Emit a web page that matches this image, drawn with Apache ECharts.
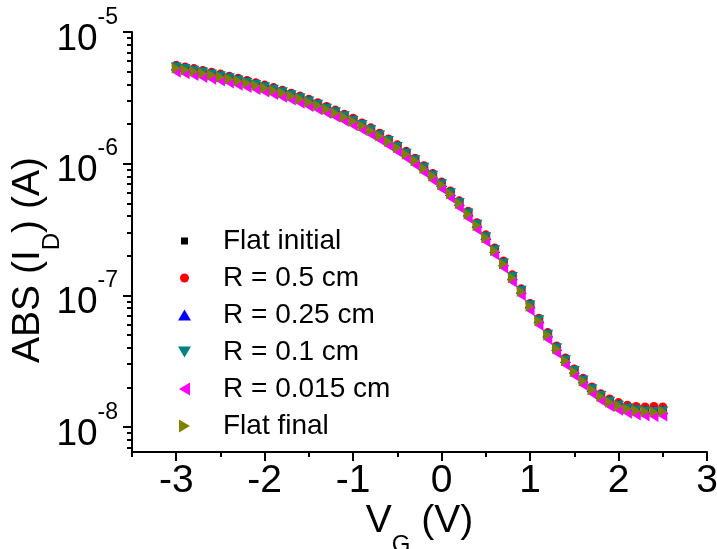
<!DOCTYPE html>
<html>
<head>
<meta charset="utf-8">
<script src="https://cdn.jsdelivr.net/npm/echarts@6/dist/echarts.min.js"></script>
<style>
  html, body { margin: 0; padding: 0; background: #fff; }
  #chart { width: 717px; height: 549px; }
</style>
</head>
<body>
<div id="chart"></div>
<script>
// Gate voltage sweep (V)
const vg = [-3.0, -2.9, -2.8, -2.7, -2.6, -2.5, -2.4, -2.3, -2.2, -2.1,
            -2.0, -1.9, -1.8, -1.7, -1.6, -1.5, -1.4, -1.3, -1.2, -1.1,
            -1.0, -0.9, -0.8, -0.7, -0.6, -0.5, -0.4, -0.3, -0.2, -0.1,
             0.0,  0.1,  0.2,  0.3,  0.4,  0.5,  0.6,  0.7,  0.8,  0.9,
             1.0,  1.1,  1.2,  1.3,  1.4,  1.5,  1.6,  1.7,  1.8,  1.9,
             2.0,  2.1,  2.2,  2.3,  2.4,  2.5];

// |I_D| (A) for each bending state
const flatInitial = [5.36e-6, 5.22e-6, 5.07e-6, 4.91e-6, 4.76e-6, 4.61e-6, 4.44e-6, 4.28e-6, 4.12e-6, 3.96e-6,
                     3.80e-6, 3.64e-6, 3.47e-6, 3.30e-6, 3.13e-6, 2.96e-6, 2.79e-6, 2.62e-6, 2.45e-6, 2.28e-6,
                     2.12e-6, 1.96e-6, 1.80e-6, 1.64e-6, 1.48e-6, 1.33e-6, 1.19e-6, 1.06e-6, 9.28e-7, 8.09e-7,
                     6.98e-7, 5.96e-7, 5.02e-7, 4.17e-7, 3.42e-7, 2.77e-7, 2.20e-7, 1.75e-7, 1.37e-7, 1.08e-7,
                     8.33e-8, 6.44e-8, 5.01e-8, 3.96e-8, 3.21e-8, 2.66e-8, 2.25e-8, 1.94e-8, 1.72e-8, 1.56e-8,
                     1.45e-8, 1.38e-8, 1.34e-8, 1.32e-8, 1.31e-8, 1.32e-8];
const r05 = [5.58e-6, 5.43e-6, 5.27e-6, 5.10e-6, 4.95e-6, 4.79e-6, 4.62e-6, 4.45e-6, 4.28e-6, 4.12e-6,
             3.95e-6, 3.78e-6, 3.61e-6, 3.43e-6, 3.26e-6, 3.08e-6, 2.90e-6, 2.72e-6, 2.55e-6, 2.37e-6,
             2.21e-6, 2.04e-6, 1.87e-6, 1.70e-6, 1.54e-6, 1.39e-6, 1.24e-6, 1.10e-6, 9.65e-7, 8.41e-7,
             7.26e-7, 6.20e-7, 5.22e-7, 4.34e-7, 3.56e-7, 2.88e-7, 2.29e-7, 1.82e-7, 1.43e-7, 1.12e-7,
             8.66e-8, 6.70e-8, 5.21e-8, 4.12e-8, 3.34e-8, 2.76e-8, 2.34e-8, 2.01e-8, 1.79e-8, 1.63e-8,
             1.53e-8, 1.46e-8, 1.43e-8, 1.42e-8, 1.43e-8, 1.42e-8];
const r025 = [5.52e-6, 5.38e-6, 5.22e-6, 5.05e-6, 4.90e-6, 4.74e-6, 4.58e-6, 4.41e-6, 4.24e-6, 4.08e-6,
              3.91e-6, 3.74e-6, 3.58e-6, 3.40e-6, 3.22e-6, 3.05e-6, 2.87e-6, 2.69e-6, 2.53e-6, 2.35e-6,
              2.18e-6, 2.02e-6, 1.85e-6, 1.68e-6, 1.53e-6, 1.37e-6, 1.23e-6, 1.09e-6, 9.56e-7, 8.33e-7,
              7.19e-7, 6.14e-7, 5.17e-7, 4.30e-7, 3.53e-7, 2.85e-7, 2.27e-7, 1.80e-7, 1.41e-7, 1.11e-7,
              8.58e-8, 6.64e-8, 5.16e-8, 4.08e-8, 3.31e-8, 2.74e-8, 2.32e-8, 1.99e-8, 1.76e-8, 1.60e-8,
              1.49e-8, 1.41e-8, 1.37e-8, 1.35e-8, 1.34e-8, 1.35e-8];
const r01 = [5.42e-6, 5.27e-6, 5.12e-6, 4.96e-6, 4.80e-6, 4.65e-6, 4.49e-6, 4.32e-6, 4.16e-6, 4.00e-6,
             3.84e-6, 3.67e-6, 3.51e-6, 3.34e-6, 3.16e-6, 2.99e-6, 2.82e-6, 2.64e-6, 2.48e-6, 2.31e-6,
             2.14e-6, 1.98e-6, 1.82e-6, 1.65e-6, 1.50e-6, 1.35e-6, 1.20e-6, 1.07e-6, 9.37e-7, 8.17e-7,
             7.05e-7, 6.02e-7, 5.07e-7, 4.21e-7, 3.46e-7, 2.79e-7, 2.22e-7, 1.76e-7, 1.39e-7, 1.09e-7,
             8.42e-8, 6.51e-8, 5.06e-8, 4.00e-8, 3.24e-8, 2.68e-8, 2.27e-8, 1.95e-8, 1.73e-8, 1.57e-8,
             1.46e-8, 1.39e-8, 1.35e-8, 1.32e-8, 1.31e-8, 1.32e-8];
const r0015 = [4.94e-6, 4.81e-6, 4.67e-6, 4.52e-6, 4.38e-6, 4.24e-6, 4.09e-6, 3.94e-6, 3.79e-6, 3.65e-6,
               3.50e-6, 3.35e-6, 3.20e-6, 3.04e-6, 2.88e-6, 2.72e-6, 2.57e-6, 2.41e-6, 2.26e-6, 2.10e-6,
               1.95e-6, 1.80e-6, 1.66e-6, 1.51e-6, 1.37e-6, 1.23e-6, 1.10e-6, 9.77e-7, 8.55e-7, 7.45e-7,
               6.43e-7, 5.49e-7, 4.62e-7, 3.84e-7, 3.15e-7, 2.55e-7, 2.03e-7, 1.61e-7, 1.26e-7, 9.95e-8,
               7.67e-8, 5.93e-8, 4.61e-8, 3.65e-8, 2.96e-8, 2.45e-8, 2.07e-8, 1.79e-8, 1.58e-8, 1.43e-8,
               1.34e-8, 1.27e-8, 1.23e-8, 1.21e-8, 1.20e-8, 1.21e-8];
const flatFinal = [5.31e-6, 5.17e-6, 5.02e-6, 4.86e-6, 4.71e-6, 4.56e-6, 4.40e-6, 4.24e-6, 4.08e-6, 3.92e-6,
                   3.76e-6, 3.60e-6, 3.44e-6, 3.27e-6, 3.10e-6, 2.93e-6, 2.76e-6, 2.59e-6, 2.43e-6, 2.26e-6,
                   2.10e-6, 1.94e-6, 1.78e-6, 1.62e-6, 1.47e-6, 1.32e-6, 1.18e-6, 1.05e-6, 9.19e-7, 8.01e-7,
                   6.91e-7, 5.90e-7, 4.97e-7, 4.13e-7, 3.39e-7, 2.74e-7, 2.18e-7, 1.73e-7, 1.36e-7, 1.07e-7,
                   8.25e-8, 6.38e-8, 4.96e-8, 3.92e-8, 3.18e-8, 2.63e-8, 2.23e-8, 1.92e-8, 1.70e-8, 1.54e-8,
                   1.44e-8, 1.37e-8, 1.33e-8, 1.31e-8, 1.30e-8, 1.31e-8];

const seriesNames = ['Flat initial', 'R = 0.5 cm', 'R = 0.25 cm', 'R = 0.1 cm', 'R = 0.015 cm', 'Flat final'];

// Axis ranges and tick positions
const X_MIN = -3.5, X_MAX = 3;
const xMajorTicks = [-3, -2, -1, 0, 1, 2, 3];
const xMinorTicks = [-3.5, -2.5, -1.5, -0.5, 0.5, 1.5, 2.5];
const Y_MIN = 6.45e-9, Y_MAX = 1e-5;
const yDecades = [-8, -7, -6, -5];

const FONT = '"Liberation Sans", Arial, sans-serif';

// log10 positions of the minor ticks (2..9 x 10^n) inside the range
const yMinorTicks = [];
for (let e = -9; e <= -6; e++) {
  for (let k = 2; k <= 9; k++) {
    const lv = Math.log10(k) + e;
    if (lv >= Math.log10(Y_MIN) && lv <= -5) yMinorTicks.push(lv);
  }
}

const symbols = {
  square: 'rect',
  circle: 'circle',
  up: 'path://M5,0 L10,10 L0,10 Z',
  down: 'path://M0,0 L10,0 L5,10 Z',
  left: 'path://M10,0 L10,10 L0,5 Z',
  right: 'path://M0,0 L10,5 L0,10 Z'
};
const legendIcons = [
  'path://M0,0 M13,13 M3,3 L10,3 L10,10 L3,10 Z',
  'path://M0,0 M13,13 M11,6.5 A4.5,4.5 0 1 1 2,6.5 A4.5,4.5 0 1 1 11,6.5 Z',
  'path://M6.5,1 L13,12 L0,12 Z',
  'path://M0,1 L13,1 L6.5,12 Z',
  'path://M12,0 L12,13 L1,6.5 Z',
  'path://M1,0 L12,6.5 L1,13 Z'
];
const colors = ['#000000', '#ff0000', '#0000ff', '#008080', '#ff00ff', '#808000'];
const symbolKinds = ['square', 'circle', 'up', 'down', 'left', 'right'];
const symbolSizes = [[8, 8], [9, 9], [11, 9], [11, 9], [9, 11], [9, 11]];
const values = [flatInitial, r05, r025, r01, r0015, flatFinal];

const series = values.map((arr, i) => ({
  name: seriesNames[i],
  type: 'scatter',
  xAxisIndex: 0,
  yAxisIndex: 0,
  symbol: symbols[symbolKinds[i]],
  symbolSize: symbolSizes[i],
  itemStyle: { color: colors[i], opacity: 1 },
  emphasis: { disabled: true },
  data: vg.map((v, j) => [v, arr[j]])
}));

// Title text with a subscript: both tokens share one box height so the
// subscript offset does not depend on the token alignment mode.
const titleRich = {
  a: { fontFamily: FONT, fontSize: 39, color: '#000', lineHeight: 39, padding: [0, 0, 16, 0] },
  s: { fontFamily: FONT, fontSize: 24, color: '#000', lineHeight: 24, padding: [31, 0, 0, 0] }
};

const chart = echarts.init(document.getElementById('chart'), null, { renderer: 'canvas' });

const lineStyle = { color: '#000', width: 2 };

chart.setOption({
  animation: false,
  backgroundColor: '#fff',
  textStyle: { fontFamily: FONT },
  grid: { left: 132, right: 10, top: 32, bottom: 97, containLabel: false, outerBoundsMode: 'none' },
  legend: {
    orient: 'vertical',
    left: 173,
    top: 222,
    itemWidth: 13,
    itemHeight: 13,
    itemGap: 9,
    selectedMode: false,
    textStyle: { fontFamily: FONT, fontSize: 28, color: '#000', lineHeight: 28, padding: [0, 0, 0, 27] },
    data: seriesNames.map((n, i) => ({ name: n, icon: legendIcons[i], itemStyle: { color: colors[i], opacity: 1 } }))
  },
  xAxis: [
    {
      type: 'value', min: X_MIN, max: X_MAX, position: 'bottom',
      splitLine: { show: false },
      axisLine: { onZero: false, lineStyle },
      axisTick: { inside: false, length: 9, lineStyle, customValues: xMajorTicks },
      axisLabel: {
        customValues: xMajorTicks, margin: 10,
        fontFamily: FONT, fontSize: 39, color: '#000',
        formatter: v => String(Math.round(v))
      },
      name: '{a|V}{s|G}{a| (V)}',
      nameLocation: 'middle',
      nameMoveOverlap: false,
      nameGap: 58,
      nameTextStyle: { rich: titleRich }
    },
    {
      type: 'value', min: X_MIN, max: X_MAX, position: 'bottom', offset: 0,
      splitLine: { show: false },
      axisLine: { show: false, onZero: false },
      axisTick: { inside: false, length: 5, lineStyle, customValues: xMinorTicks },
      axisLabel: { show: false }
    }
  ],
  yAxis: [
    {
      type: 'log', logBase: 10, min: Y_MIN, max: Y_MAX, position: 'left',
      show: false,
      axisLine: { onZero: false },
      splitLine: { show: false }
    },
    {
      type: 'value', min: Math.log10(Y_MIN), max: Math.log10(Y_MAX), position: 'left', offset: 0,
      splitLine: { show: false },
      axisLine: { onZero: false, lineStyle },
      axisTick: { inside: false, length: 9, lineStyle, customValues: yDecades },
      axisLabel: {
        customValues: yDecades, margin: 14,
        formatter: v => '{b|10}{s|' + Math.round(v) + '}',
        rich: {
          b: { fontFamily: FONT, fontSize: 37, color: '#000', lineHeight: 52, verticalAlign: 'bottom' },
          s: { fontFamily: FONT, fontSize: 23, color: '#000', lineHeight: 23, verticalAlign: 'top' }
        }
      },
      name: '{a|ABS (I}{s|D}{a|) (A)}',
      nameLocation: 'middle',
      nameRotate: 90,
      nameMoveOverlap: false,
      nameGap: 76,
      nameTextStyle: { padding: [0, 36, 0, 0], rich: titleRich }
    },
    {
      type: 'value', min: Math.log10(Y_MIN), max: Math.log10(Y_MAX), position: 'left', offset: 0,
      splitLine: { show: false },
      axisLine: { show: false, onZero: false },
      axisTick: { inside: false, length: 5, lineStyle, customValues: yMinorTicks },
      axisLabel: { show: false }
    }
  ],
  series: series
});
</script>
</body>
</html>
